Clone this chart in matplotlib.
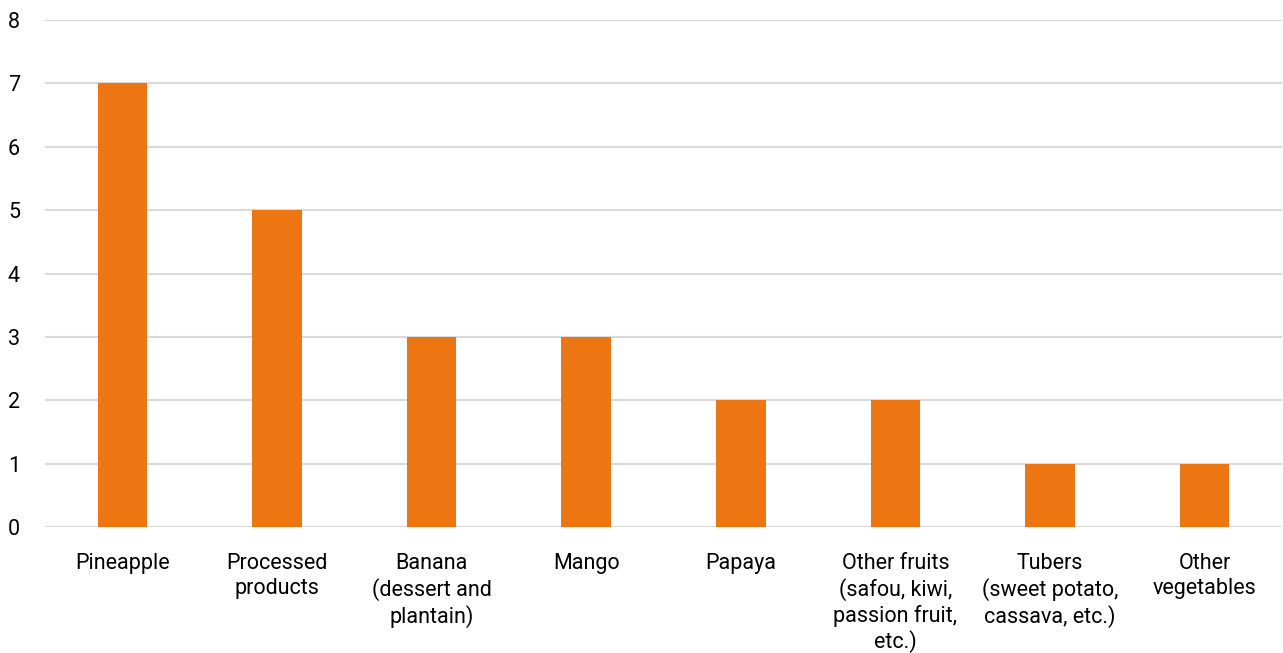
import matplotlib
matplotlib.use("Agg")
import matplotlib.pyplot as plt
import matplotlib.transforms as mtrans
import numpy as np

categories = ["Pineapple", "Processed\nproducts", "Banana\n(dessert and\nplantain)", "Mango",
              "Papaya", "Other fruits\n(safou, kiwi,\npassion fruit,\netc.)",
              "Tubers\n(sweet potato,\ncassava, etc.)", "Other\nvegetables"]
values = [7, 5, 3, 3, 2, 2, 1, 1]
yticks = [0, 1, 2, 3, 4, 5, 6, 7, 8]

plt.rcParams['font.family'] = ['Roboto', 'DejaVu Sans']

W, H = 1283, 653
fig = plt.figure(figsize=(W/100, H/100), dpi=100)
ax = fig.add_axes([45/W, 1-527/H, (1282-45)/W, (527-20)/H])

x = np.arange(len(categories))
ax.bar(x, values, width=0.32, color='#ED7512', zorder=3)
ax.set_xlim(-0.5, len(categories)-0.5)
ax.set_ylim(0, 8)
ax.set_yticks(yticks)
ax.set_yticklabels([str(t) for t in yticks])
ax.set_xticks(x)
ax.set_xticklabels(categories, linespacing=1.21)
ax.yaxis.grid(True, color='#d9d9d9', linewidth=1.5, zorder=0)
for s in ax.spines.values():
    s.set_visible(False)
ax.tick_params(axis='y', length=0, labelsize=15.5, colors='#000000')
ax.tick_params(axis='x', length=0, pad=19, labelsize=15.5, colors='#000000')
for lbl in ax.get_yticklabels():
    lbl.set_horizontalalignment('left')
    lbl.set_transform(mtrans.blended_transform_factory(fig.transFigure, ax.transData))
    lbl.set_x(8/W)
fig.savefig("out.png", dpi=100, facecolor='white')
